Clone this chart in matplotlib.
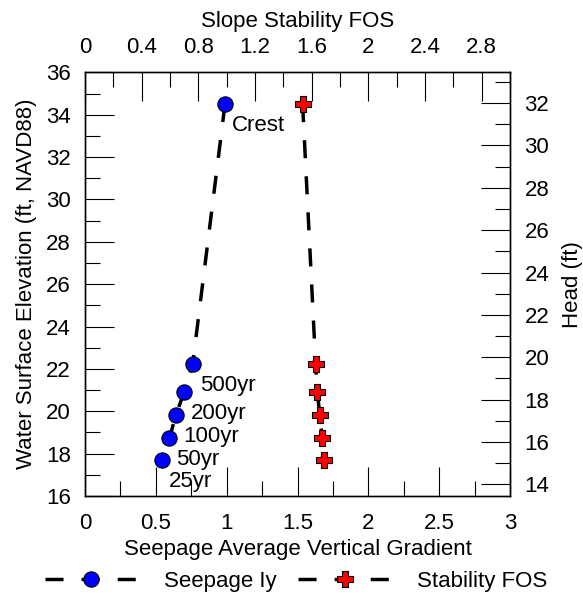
import numpy as np
import matplotlib
matplotlib.use('Agg')
import matplotlib.pyplot as plt
from matplotlib.ticker import MultipleLocator

plt.rcParams['font.family'] = ['Liberation Sans', 'DejaVu Sans']
plt.rcParams['lines.scale_dashes'] = False

# water surface elevation of each case (ft, NAVD88)
events = ['Crest', '500yr', '200yr', '100yr', '50yr', '25yr']
elevation = [34.5, 22.23, 20.92, 19.82, 18.72, 17.70]
seepage_iy = [0.988, 0.760, 0.700, 0.642, 0.595, 0.541]
stability_fos = [1.536, 1.628, 1.639, 1.658, 1.675, 1.689]
head_offset = 2.55  # head = elevation - offset

fs = 16
fig = plt.figure(figsize=(5.83, 5.95), dpi=100)
ax = fig.add_axes([0.1458, 0.1664, 0.729, 0.712])
ax_top = ax.twiny()
ax_right = ax.twinx()

ln1, = ax.plot(seepage_iy, elevation, color='black', lw=2.5, dashes=(13, 13),
               marker='o', markersize=11, markerfacecolor='#0000FF',
               markeredgecolor='black', markeredgewidth=0.8,
               label='Seepage Iy', zorder=3)
ln2, = ax_top.plot(stability_fos, elevation, color='black', lw=2.5, dashes=(13, 13),
                   marker='P', markersize=11, markerfacecolor='#FF0000',
                   markeredgecolor='black', markeredgewidth=0.8,
                   label='Stability FOS', zorder=3)

for name, x, y in zip(events, seepage_iy, elevation):
    ax.annotate(name, (x, y), xytext=(5, -15.5), textcoords='offset points',
                ha='left', va='center', fontsize=fs)

ax.set_xlim(0, 3)
ax.set_ylim(16, 36)
ax_top.set_xlim(0, 3)
ax_right.set_ylim(16 - head_offset, 36 - head_offset)

ax.xaxis.set_major_locator(MultipleLocator(0.5))
ax.xaxis.set_minor_locator(MultipleLocator(0.25))
ax.yaxis.set_major_locator(MultipleLocator(2))
ax.yaxis.set_minor_locator(MultipleLocator(1))
ax_top.xaxis.set_major_locator(MultipleLocator(0.4))
ax_top.xaxis.set_minor_locator(MultipleLocator(0.2))
ax_right.yaxis.set_major_locator(MultipleLocator(2))
ax_right.yaxis.set_minor_locator(MultipleLocator(1))

ax.xaxis.set_major_formatter(plt.FuncFormatter(lambda v, p: ('%g' % v)))
ax_top.xaxis.set_major_formatter(plt.FuncFormatter(lambda v, p: ('%g' % round(v, 1))))

for a in (ax, ax_top, ax_right):
    a.tick_params(which='major', direction='in', length=21, width=0.8,
                  labelsize=fs, pad=10)
    a.tick_params(which='minor', direction='in', length=10.5, width=0.8)
    for s in a.spines.values():
        s.set_linewidth(0.9)
ax.tick_params(axis='x', which='major', pad=12)
ax_right.tick_params(axis='y', which='major', pad=10.5)

ax.set_xlabel('Seepage Average Vertical Gradient', fontsize=fs)
ax.set_ylabel('Water Surface Elevation (ft, NAVD88)', fontsize=fs)
ax_top.set_xlabel('Slope Stability FOS', fontsize=fs)
ax_right.set_ylabel('Head (ft)', fontsize=fs)

ax.xaxis.set_label_coords(0.5, -0.1274)
ax.yaxis.set_label_coords(-0.1365, 0.5)
ax_top.xaxis.set_label_coords(0.5, 1.121)
ax_right.yaxis.set_label_coords(1.148, 0.5)
for lab in (ax.xaxis.label, ax.yaxis.label, ax_top.xaxis.label, ax_right.yaxis.label):
    lab.set_verticalalignment('center')
    lab.set_rotation_mode('anchor')

fig.legend(handles=[ln1, ln2], loc='center', bbox_to_anchor=(0.508, 0.0235),
           ncol=2, frameon=False, fontsize=fs, handlelength=4.2,
           handletextpad=1.15, columnspacing=1.0, numpoints=1,
           borderpad=0, borderaxespad=0)

fig.savefig('out.png', dpi=100)
